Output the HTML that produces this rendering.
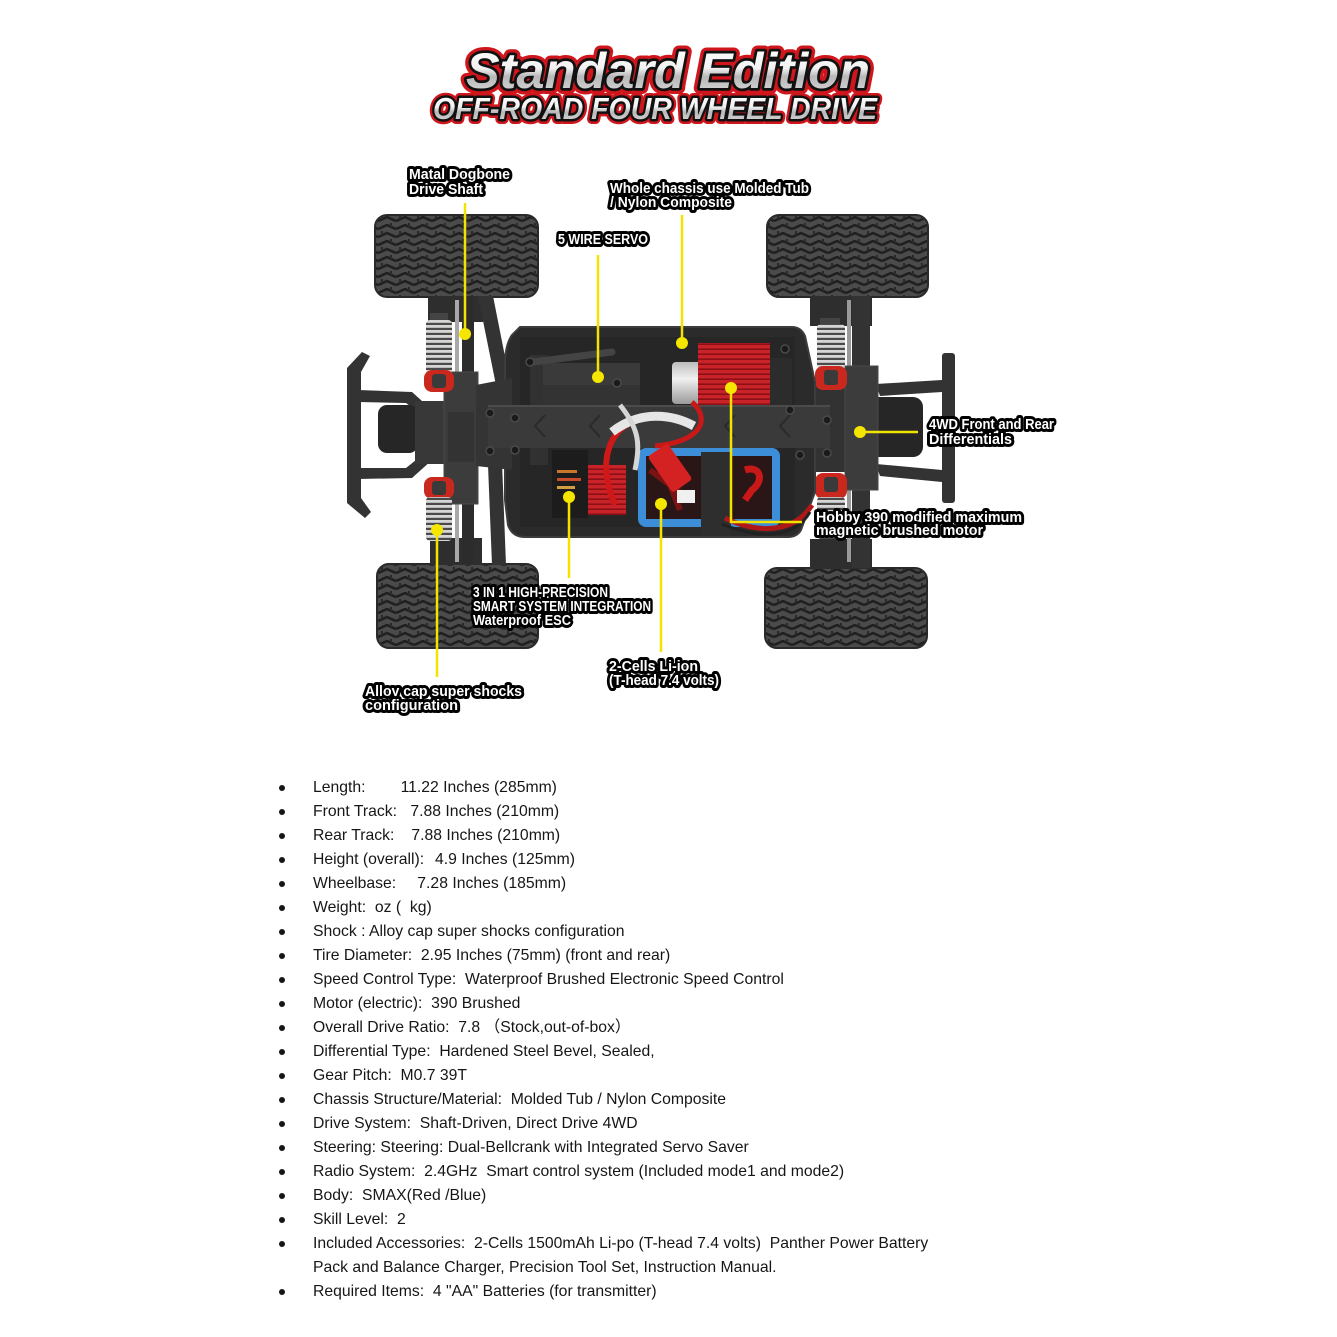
<!DOCTYPE html>
<html>
<head>
<meta charset="utf-8">
<style>
html,body{margin:0;padding:0;background:#fff;}
body{width:1337px;height:1337px;position:relative;overflow:hidden;}
svg{position:absolute;left:0;top:0;}
.li{position:absolute;left:313px;font-family:"Liberation Sans","Noto Sans CJK SC",sans-serif;font-size:16px;line-height:24px;height:24px;white-space:pre;color:#161616;transform:scaleX(0.984);transform-origin:0 0;}
.v{position:absolute;top:0;}
.d{position:absolute;left:279px;width:6px;height:6px;border-radius:50%;background:#161616;}
</style>
</head>
<body>
<svg width="1337" height="1337" viewBox="0 0 1337 1337">
<defs>
  <linearGradient id="silver" x1="0" y1="0" x2="0" y2="1">
    <stop offset="0" stop-color="#ffffff"/>
    <stop offset="0.45" stop-color="#f2f2f2"/>
    <stop offset="0.6" stop-color="#b8b8b8"/>
    <stop offset="1" stop-color="#e0e0e0"/>
  </linearGradient>
  <linearGradient id="can" x1="0" y1="0" x2="0" y2="1">
    <stop offset="0" stop-color="#bdbdbd"/>
    <stop offset="0.4" stop-color="#f0f0f0"/>
    <stop offset="1" stop-color="#9a9a9a"/>
  </linearGradient>
  <pattern id="tread" width="18" height="16" patternUnits="userSpaceOnUse">
    <rect width="18" height="16" fill="#4b4b4b"/>
    <path d="M0 5 L9 1 L18 5 M0 13 L9 9 L18 13" stroke="#202020" stroke-width="2.6" fill="none"/>
    <path d="M4 7 L4 11 M13 -1 L13 3 M13 15 L13 17" stroke="#2a2a2a" stroke-width="2"/>
  </pattern>
  <pattern id="fins" width="10" height="5" patternUnits="userSpaceOnUse">
    <rect width="10" height="5" fill="#c9232a"/>
    <rect y="3.4" width="10" height="1.6" fill="#8a1016"/>
  </pattern>
  <pattern id="spring" width="6" height="5" patternUnits="userSpaceOnUse">
    <rect width="6" height="5" fill="#4a4a4a"/>
    <rect width="6" height="2.8" fill="#d6d6d6"/>
  </pattern>
</defs>

<!-- TITLE -->
<g font-family="Liberation Sans, DejaVu Sans, sans-serif" font-weight="bold" font-style="italic" stroke-linejoin="round">
  <text x="466" y="88" font-size="50" textLength="404" lengthAdjust="spacingAndGlyphs" fill="#d0161d" stroke="#d0161d" stroke-width="12">Standard Edition</text>
  <text x="466" y="88" font-size="50" textLength="404" lengthAdjust="spacingAndGlyphs" fill="#111" stroke="#111" stroke-width="5.5">Standard Edition</text>
  <text x="466" y="88" font-size="50" textLength="404" lengthAdjust="spacingAndGlyphs" fill="url(#silver)">Standard Edition</text>
  <text x="433" y="119" font-size="31" textLength="444" lengthAdjust="spacingAndGlyphs" fill="#d0161d" stroke="#d0161d" stroke-width="10">OFF-ROAD FOUR WHEEL DRIVE</text>
  <text x="433" y="119" font-size="31" textLength="444" lengthAdjust="spacingAndGlyphs" fill="#111" stroke="#111" stroke-width="5">OFF-ROAD FOUR WHEEL DRIVE</text>
  <text x="433" y="119" font-size="31" textLength="444" lengthAdjust="spacingAndGlyphs" fill="url(#silver)">OFF-ROAD FOUR WHEEL DRIVE</text>
</g>

<!-- CAR -->
<g>
  <!-- tires -->
  <rect x="375" y="215" width="163" height="82" rx="12" fill="url(#tread)" stroke="#2a2a2a" stroke-width="2"/>
  <rect x="767" y="215" width="161" height="82" rx="12" fill="url(#tread)" stroke="#2a2a2a" stroke-width="2"/>
  <rect x="377" y="564" width="161" height="84" rx="12" fill="url(#tread)" stroke="#2a2a2a" stroke-width="2"/>
  <rect x="765" y="568" width="162" height="80" rx="12" fill="url(#tread)" stroke="#2a2a2a" stroke-width="2"/>

  <!-- LEFT suspension -->
  <rect x="428" y="296" width="55" height="26" fill="#2e2e2e"/>
  <polygon points="478,296 493,296 512,392 498,395" fill="#333"/>
  <rect x="430" y="538" width="52" height="27" fill="#2e2e2e"/>
  <polygon points="488,465 502,462 506,565 492,565" fill="#333"/>
  <rect x="462" y="296" width="12" height="268" fill="#2c2c2c"/>
  <rect x="455" y="300" width="4" height="262" fill="#a8a8a8"/>
  <!-- bumper struts -->
  <polygon points="358,390 412,392 432,410 426,418 406,403 358,402" fill="#333"/>
  <polygon points="358,468 406,468 426,452 432,460 412,478 358,479" fill="#333"/>
  <!-- bumper -->
  <path d="M347 368 L362 352 L370 356 L361 372 L361 498 L371 512 L365 518 L347 503 Z" fill="#333"/>
  <rect x="378" y="405" width="40" height="48" rx="9" fill="#262626"/>
  <rect x="415" y="401" width="33" height="63" fill="#383838"/>
  <rect x="444" y="372" width="34" height="132" fill="#3c3c3c" stroke="#4a4a4a"/>
  <rect x="448" y="412" width="26" height="50" fill="#333"/>
  <!-- shocks left -->
  <rect x="430" y="313" width="18" height="8" fill="#444"/>
  <rect x="426" y="320" width="26" height="54" rx="4" fill="url(#spring)"/>
  <rect x="424" y="370" width="30" height="22" rx="8" fill="#c8281e"/>
  <rect x="432" y="374" width="14" height="14" rx="3" fill="#3a3a3a"/>
  <rect x="424" y="477" width="30" height="22" rx="8" fill="#c8281e"/>
  <rect x="432" y="481" width="14" height="14" rx="3" fill="#3a3a3a"/>
  <rect x="426" y="497" width="26" height="44" rx="4" fill="url(#spring)"/>

  <!-- RIGHT suspension -->
  <rect x="810" y="296" width="62" height="30" fill="#2e2e2e"/>
  <rect x="810" y="539" width="62" height="30" fill="#2e2e2e"/>
  <rect x="852" y="296" width="18" height="272" fill="#333"/>
  <rect x="847" y="300" width="4" height="262" fill="#9a9a9a"/>
  <polygon points="876,384 942,380 942,392 880,396" fill="#333"/>
  <polygon points="876,464 942,470 942,482 880,476" fill="#333"/>
  <rect x="942" y="353" width="13" height="150" rx="3" fill="#333"/>
  <rect x="790" y="386" width="58" height="86" fill="#323232"/>
  <rect x="866" y="397" width="57" height="60" rx="10" fill="#262626"/>
  <rect x="845" y="366" width="33" height="124" fill="#3c3c3c" stroke="#4a4a4a"/>
  <rect x="820" y="318" width="20" height="8" fill="#444"/>
  <rect x="817" y="324" width="28" height="45" rx="4" fill="url(#spring)"/>
  <rect x="815" y="366" width="32" height="24" rx="8" fill="#c8281e"/>
  <rect x="824" y="370" width="14" height="15" rx="3" fill="#3a3a3a"/>
  <rect x="815" y="473" width="32" height="26" rx="8" fill="#c8281e"/>
  <rect x="824" y="477" width="14" height="15" rx="3" fill="#3a3a3a"/>
  <rect x="817" y="497" width="28" height="42" rx="4" fill="url(#spring)"/>

  <!-- TUB -->
  <path d="M520 327 L792 327 Q801 327 805 336 L815 382 L815 492 L801 530 Q797 537 788 537 L525 537 Q512 537 508 525 L505 500 L505 365 Q505 345 512 335 Z" fill="#2b2b2b" stroke="#3c3c3c" stroke-width="2"/>
  <rect x="520" y="337" width="275" height="190" fill="#262626"/>
  <!-- left plate -->
  <polygon points="476,385 512,378 512,470 476,466" fill="#343434"/>
  <!-- servo -->
  <rect x="530" y="355" width="18" height="110" fill="#313131"/>
  <rect x="543" y="363" width="97" height="54" fill="#333"/>
  <rect x="543" y="363" width="97" height="22" fill="#3a3a3a"/>
  <line x1="533" y1="362" x2="612" y2="352" stroke="#444" stroke-width="7" stroke-linecap="round"/>
  <!-- motor -->
  <rect x="672" y="362" width="30" height="42" rx="4" fill="url(#can)"/>
  <rect x="698" y="343" width="72" height="75" fill="url(#fins)"/>
  <rect x="770" y="358" width="22" height="62" fill="#2c2c2c"/>
  <!-- cross beam -->
  <rect x="488" y="405" width="342" height="43" fill="#3a3a3a"/>
  <line x1="488" y1="406" x2="830" y2="406" stroke="#4b4b4b" stroke-width="2"/>
  <path d="M545 415 L535 426 L545 437 M600 415 L590 426 L600 437 M735 415 L725 426 L735 437 M790 415 L780 426 L790 437" stroke="#2a2a2a" stroke-width="2" fill="none"/>
  <!-- ESC -->
  <rect x="552" y="450" width="36" height="68" fill="#1c1c1c"/>
  <rect x="557" y="470" width="20" height="3" fill="#c8772a"/>
  <rect x="557" y="478" width="24" height="3" fill="#c74a2a"/>
  <rect x="557" y="486" width="18" height="3" fill="#d0a040"/>
  <rect x="588" y="465" width="38" height="50" fill="url(#fins)"/>
  <!-- battery -->
  <rect x="642" y="452" width="134" height="71" rx="4" fill="#2a1616" stroke="#3d8ed8" stroke-width="8"/>
  <path d="M650 470 L690 500 M660 460 L680 510" stroke="#7a1414" stroke-width="6"/>
  <path d="M745 470 C760 465 765 480 752 490 L745 500" stroke="#c81818" stroke-width="7" fill="none"/>
  <rect x="701" y="452" width="30" height="84" fill="#2e2e2e"/>
  <!-- wires -->
  <path d="M650 418 C610 420 595 460 615 505" stroke="#cf1818" stroke-width="6" fill="none"/>
  <path d="M692 402 C712 420 700 442 655 446" stroke="#c81818" stroke-width="5" fill="none"/>
  <path d="M612 432 C640 410 672 414 694 426" stroke="#e6e6e6" stroke-width="9" fill="none"/>
  <path d="M620 405 C640 430 640 445 635 470" stroke="#d6d6d6" stroke-width="5" fill="none"/>
  <g transform="rotate(-35 670 468)">
    <rect x="658" y="446" width="24" height="44" rx="3" fill="#d42222"/>
  </g>
  <rect x="677" y="490" width="18" height="13" fill="#f0f0f0"/>
  <path d="M725 518 C760 535 795 532 812 505" stroke="#b01818" stroke-width="5" fill="none"/>
  <path d="M722 524 C760 540 795 538 810 512" stroke="#222" stroke-width="3" fill="none"/>
  <!-- screws -->
  <g fill="#1a1a1a" stroke="#4a4a4a" stroke-width="1.5">
    <circle cx="530" cy="362" r="4"/><circle cx="617" cy="383" r="4"/><circle cx="785" cy="349" r="4"/>
    <circle cx="790" cy="410" r="4"/><circle cx="515" cy="418" r="4"/><circle cx="515" cy="450" r="4"/>
    <circle cx="800" cy="455" r="4"/><circle cx="827" cy="420" r="4"/><circle cx="827" cy="453" r="4"/>
    <circle cx="490" cy="413" r="4"/><circle cx="490" cy="451" r="4"/>
  </g>
</g>

<!-- LEADERS -->
<g stroke="#f2e400" stroke-width="2.5" fill="none">
  <path d="M465 203 V334"/>
  <path d="M682 215 V343"/>
  <path d="M598 255 V377"/>
  <path d="M731 388 V522 H802"/>
  <path d="M860 432 H918"/>
  <path d="M569 497 V578"/>
  <path d="M661 504 V652"/>
  <path d="M437 530 V677"/>
</g>
<g fill="#f5e600">
  <circle cx="465" cy="334" r="6"/>
  <circle cx="682" cy="343" r="6"/>
  <circle cx="598" cy="377" r="6"/>
  <circle cx="731" cy="388" r="6"/>
  <circle cx="860" cy="432" r="6"/>
  <circle cx="569" cy="497" r="6"/>
  <circle cx="661" cy="504" r="6"/>
  <circle cx="437" cy="530" r="6"/>
</g>

<!-- LABELS -->
<g font-family="Liberation Sans Narrow, Liberation Sans, sans-serif" font-weight="bold" font-size="14.5" fill="#fff" stroke="#000" stroke-width="6" stroke-linejoin="round" style="paint-order:stroke;white-space:pre">
  <text x="409" y="179" textLength="101" lengthAdjust="spacingAndGlyphs">Matal Dogbone</text>
  <text x="409" y="194" textLength="74" lengthAdjust="spacingAndGlyphs">Drive Shaft</text>
  <text x="610" y="193" textLength="199" lengthAdjust="spacingAndGlyphs">Whole chassis use Molded Tub</text>
  <text x="610" y="207" textLength="122" lengthAdjust="spacingAndGlyphs">/ Nylon Composite</text>
  <text x="558" y="244" textLength="90" lengthAdjust="spacingAndGlyphs">5 WIRE SERVO</text>
  <text x="929" y="429" textLength="125" lengthAdjust="spacingAndGlyphs">4WD Front and Rear</text>
  <text x="929" y="444" textLength="83" lengthAdjust="spacingAndGlyphs">Differentials</text>
  <text x="816" y="522" textLength="206" lengthAdjust="spacingAndGlyphs">Hobby 390 modified maximum</text>
  <text x="816" y="535" textLength="167" lengthAdjust="spacingAndGlyphs">magnetic brushed motor</text>
  <text x="473" y="597" textLength="135" lengthAdjust="spacingAndGlyphs">3 IN 1 HIGH-PRECISION</text>
  <text x="473" y="611" textLength="178" lengthAdjust="spacingAndGlyphs">SMART SYSTEM INTEGRATION</text>
  <text x="473" y="625" textLength="98" lengthAdjust="spacingAndGlyphs">Waterproof ESC</text>
  <text x="609" y="671" textLength="89" lengthAdjust="spacingAndGlyphs">2-Cells  Li-ion</text>
  <text x="609" y="685" textLength="110" lengthAdjust="spacingAndGlyphs">(T-head 7.4 volts)</text>
  <text x="365" y="696" textLength="157" lengthAdjust="spacingAndGlyphs">Alloy cap super shocks</text>
  <text x="365" y="710" textLength="93" lengthAdjust="spacingAndGlyphs">configuration</text>
</g>
</svg>

<!-- LIST -->
<div class="d" style="top:785px"></div><div class="li" style="top:775.5px">Length:<span class="v" style="left:89px">11.22 Inches (285mm)</span></div>
<div class="d" style="top:809px"></div><div class="li" style="top:799.5px">Front Track:<span class="v" style="left:99px">7.88 Inches (210mm)</span></div>
<div class="d" style="top:833px"></div><div class="li" style="top:823.5px">Rear Track:<span class="v" style="left:100px">7.88 Inches (210mm)</span></div>
<div class="d" style="top:857px"></div><div class="li" style="top:847.5px">Height (overall):<span class="v" style="left:124px">4.9 Inches (125mm)</span></div>
<div class="d" style="top:881px"></div><div class="li" style="top:871.5px">Wheelbase:<span class="v" style="left:106px">7.28 Inches (185mm)</span></div>
<div class="d" style="top:905px"></div><div class="li" style="top:895.5px">Weight:  oz (  kg)</div>
<div class="d" style="top:929px"></div><div class="li" style="top:919.5px">Shock : Alloy cap super shocks configuration</div>
<div class="d" style="top:953px"></div><div class="li" style="top:943.5px">Tire Diameter:  2.95 Inches (75mm) (front and rear)</div>
<div class="d" style="top:977px"></div><div class="li" style="top:967.5px">Speed Control Type:  Waterproof Brushed Electronic Speed Control</div>
<div class="d" style="top:1001px"></div><div class="li" style="top:991.5px">Motor (electric):  390 Brushed</div>
<div class="d" style="top:1025px"></div><div class="li" style="top:1015.5px">Overall Drive Ratio:  7.8 （Stock,out-of-box）</div>
<div class="d" style="top:1049px"></div><div class="li" style="top:1039.5px">Differential Type:  Hardened Steel Bevel, Sealed,</div>
<div class="d" style="top:1073px"></div><div class="li" style="top:1063.5px">Gear Pitch:  M0.7 39T</div>
<div class="d" style="top:1097px"></div><div class="li" style="top:1087.5px">Chassis Structure/Material:  Molded Tub / Nylon Composite</div>
<div class="d" style="top:1121px"></div><div class="li" style="top:1111.5px">Drive System:  Shaft-Driven, Direct Drive 4WD</div>
<div class="d" style="top:1145px"></div><div class="li" style="top:1135.5px">Steering: Steering: Dual-Bellcrank with Integrated Servo Saver</div>
<div class="d" style="top:1169px"></div><div class="li" style="top:1159.5px">Radio System:  2.4GHz  Smart control system (Included mode1 and mode2)</div>
<div class="d" style="top:1193px"></div><div class="li" style="top:1183.5px">Body:  SMAX(Red /Blue)</div>
<div class="d" style="top:1217px"></div><div class="li" style="top:1207.5px">Skill Level:  2</div>
<div class="d" style="top:1241px"></div><div class="li" style="top:1231.5px">Included Accessories:  2-Cells 1500mAh Li-po (T-head 7.4 volts)  Panther Power Battery</div>
<div class="li" style="top:1255.5px">Pack and Balance Charger, Precision Tool Set, Instruction Manual.</div>
<div class="d" style="top:1289px"></div><div class="li" style="top:1279.5px">Required Items:  4 "AA" Batteries (for transmitter)</div>
</body>
</html>
